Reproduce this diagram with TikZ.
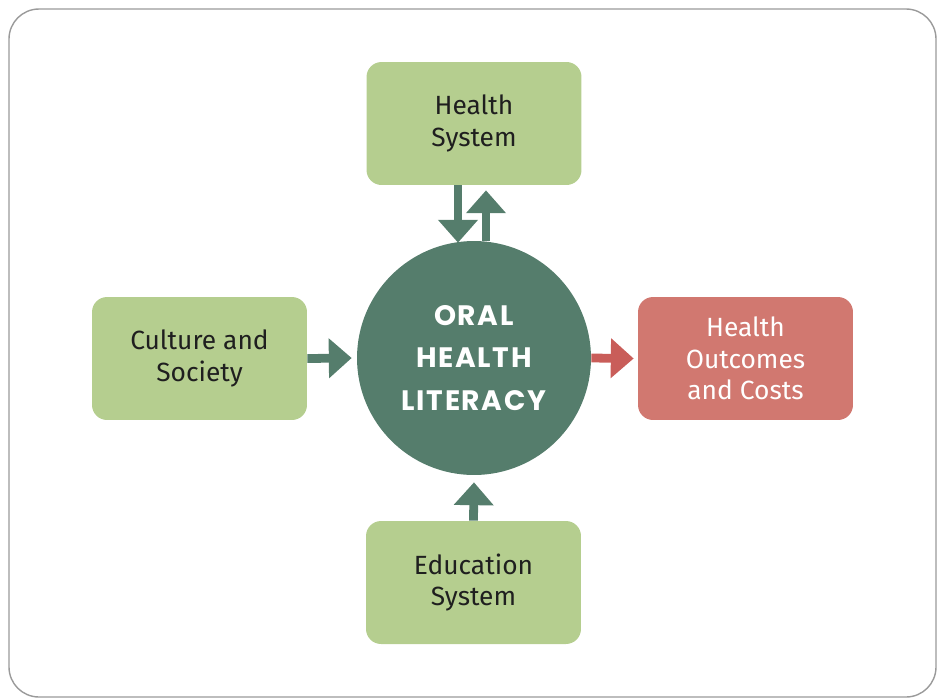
\documentclass[tikz,border=0pt]{standalone}
\usepackage{fontspec}
\setmainfont{Fira Sans}
\newfontfamily\circfont[LetterSpace=6]{Poppins}
\usetikzlibrary{arrows.meta,calc}
\definecolor{boxgreen}{HTML}{B5CE8F}
\definecolor{litgreen}{HTML}{557D6C}
\definecolor{outred}{HTML}{D17870}
\definecolor{arrred}{HTML}{C95D59}
\definecolor{textdark}{HTML}{1F1F1F}
\definecolor{framegray}{HTML}{9A9A9A}

\begin{document}
\begin{tikzpicture}[x=0.02cm, y=-0.02cm,
  box/.style={rectangle, rounded corners=0.3cm, fill=boxgreen, minimum width=4.3cm, minimum height=2.46cm, align=center, text=textdark, font=\fontsize{15}{18}\selectfont},
  arr/.style={draw=litgreen, line width=5pt, -{Triangle[width=22pt,length=13pt]}}]
\useasboundingbox (0,0) rectangle (941,698);
\draw[framegray, line width=0.8pt, rounded corners=0.6cm] (9,9) rectangle (936,697);

\node[circle, fill=litgreen, text=white, minimum size=4.68cm, inner sep=0pt, align=center, font=\circfont\bfseries\fontsize{16}{24}\selectfont] (lit) at (474,358) {ORAL\\HEALTH\\LITERACY};
\node[box] (hs) at (474,123.5) {Health\\System};
\node[box] (cs) at (199.5,358.5) {Culture and\\Society};
\node[box, fill=outred, text=white] (ho) at (745.5,358.5) {Health\\Outcomes\\and Costs};
\node[box] (es) at (473.5,582.5) {Education\\System};

\draw[arr] ($(hs.south)+(-16,0)$) -- ($(lit.north)+(-16,2)$);
\draw[arr] ($(lit.north)+(12,0)$) -- ($(hs.south)+(12,5)$);
\draw[arr] (cs.east) -- ($(lit.west)+(-5,0)$);
\draw[arr, draw=arrred] (lit.east) -- ($(ho.west)+(-4,0)$);
\draw[arr] (es.north) -- ($(lit.south)+(0,7)$);

\end{tikzpicture}
\end{document}
